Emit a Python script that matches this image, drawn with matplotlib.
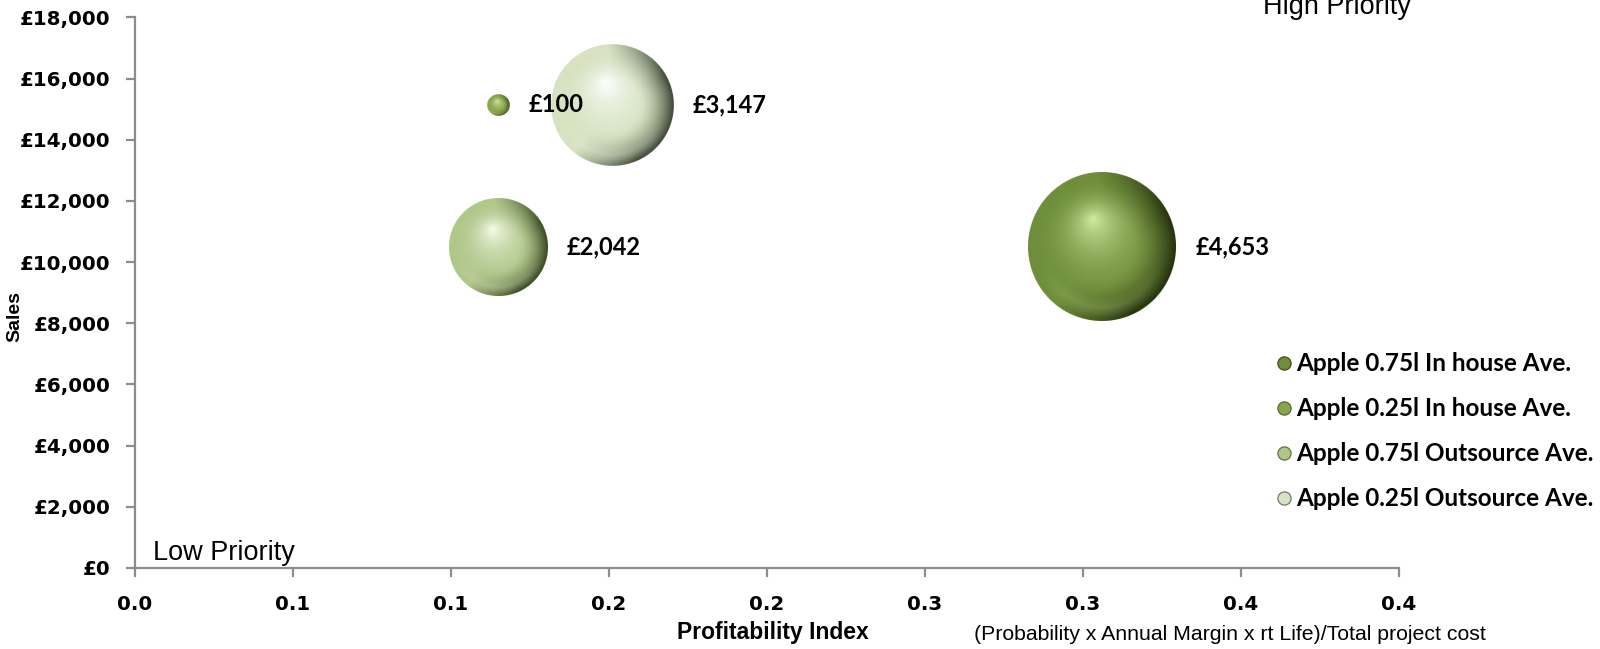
import numpy as np
import matplotlib
matplotlib.use("Agg")
import matplotlib.pyplot as plt
from matplotlib.colors import to_rgb
from matplotlib.lines import Line2D

# ---- data -------------------------------------------------------------
series = [
    "Apple 0.75l In house Ave.",
    "Apple 0.25l In house Ave.",
    "Apple 0.75l Outsource Ave.",
    "Apple 0.25l Outsource Ave.",
]
profit_index = [0.306, 0.115, 0.115, 0.151]
sales = [10500, 15150, 10500, 15150]
bubble_value = [4653, 100, 2042, 3147]

x_ticks = [0.0, 0.05, 0.10, 0.15, 0.20, 0.25, 0.30, 0.35, 0.40]
x_tick_labels = ["0.0", "0.1", "0.1", "0.2", "0.2", "0.3", "0.3", "0.4", "0.4"]
y_ticks = [0, 2000, 4000, 6000, 8000, 10000, 12000, 14000, 16000, 18000]
y_tick_labels = ["£{:,}".format(v) for v in y_ticks]

# ---- styling ----------------------------------------------------------
shades = [  # (shadow, body, highlight) per series
    ("#1c2708", "#6f8e3b", "#cfeca0"),
    ("#34441a", "#87a54b", "#d2eca4"),
    ("#2c3a18", "#b0c78a", "#f6fcec"),
    ("#2f3727", "#d6e2c1", "#ffffff"),
]
bubble_scale = 2.44          # points^2 per unit of bubble value
axis_grey = "#8c8c8c"
DPI = 100


def mix(c1, c2, f):
    a, b = np.asarray(c1, float), np.asarray(c2, float)
    f = np.asarray(f, float)[..., None] if np.ndim(f) else f
    return a + (b - a) * f


def sphere_rgba(radius_px, shadow, body, hilite, h=(-0.12, 0.38)):
    """RGBA raster of a glossy ball of the given pixel radius."""
    n = int(np.ceil(radius_px)) * 2 + 2
    c = (np.arange(n) - (n - 1) / 2.0) / radius_px
    u, v = np.meshgrid(c, -c)
    r = np.hypot(u, v)
    hx, hy = h
    # eccentric gradient parameter: 0 on the rim, 1 at the highlight
    a = hx * hx + hy * hy - 1.0
    b = 2.0 * (1.0 - (u * hx + v * hy))
    cc = np.minimum(r * r, 1.0) - 1.0
    disc = np.maximum(b * b - 4 * a * cc, 0)
    t = np.clip((-b + np.sqrt(disc)) / (2 * a), 0, 1)
    sh, bo, hi = (np.array(to_rgb(x)) for x in (shadow, body, hilite))
    col = mix(bo, hi, t ** 2.4)
    # darker crescent on the right-hand side
    rs = np.maximum(r, 1e-6)
    w = np.clip(0.35 + 0.95 * (u / rs * 0.95 - v / rs * 0.3), 0, 1)
    s = np.clip((r - 0.42) / 0.58, 0, 1) ** 1.7 * w
    col = mix(col, sh, 0.92 * s)
    # soft reflected light along the lower edge
    refl = np.clip((-v / rs - 0.3) / 0.7, 0, 1) * np.clip(1 - np.abs(r - 0.82) / 0.14, 0, 1)
    col = mix(col, hi, 0.18 * refl)
    alpha = np.clip((1.0 - r) * radius_px + 0.5, 0, 1)
    return np.dstack([np.clip(col, 0, 1), alpha])


fig = plt.figure(figsize=(16, 6.49), dpi=DPI)
ax = fig.add_axes([0.084375, 0.12481, 0.79, 0.8485])
ax.set_xlim(0, 0.4)
ax.set_ylim(0, 18000)

inv = ax.transData.inverted()
for i, (x, y, v) in enumerate(zip(profit_index, sales, bubble_value)):
    r_pt = np.sqrt(bubble_scale * v) / 2.0
    r_px = r_pt * DPI / 72.0
    img = sphere_rgba(r_px, *shades[i])
    half = img.shape[0] / 2.0
    cx, cy = ax.transData.transform((x, y))
    x0, y0 = inv.transform((cx - half, cy - half))
    x1, y1 = inv.transform((cx + half, cy + half))
    ax.imshow(img, extent=(x0, x1, y0, y1), origin="upper", aspect="auto",
              interpolation="bilinear", zorder=3 + i * 0.01)
    ax.annotate("£{:,}".format(v), (x, y), xytext=(r_pt + 14, 0),
                textcoords="offset points", ha="left", va="center",
                fontsize=17, fontweight="bold", family="Lato", zorder=10)
ax.set_xlim(0, 0.4)
ax.set_ylim(0, 18000)

# axes
for side in ("top", "right"):
    ax.spines[side].set_visible(False)
for side in ("left", "bottom"):
    ax.spines[side].set_color(axis_grey)
    ax.spines[side].set_linewidth(1.6)
ax.set_xticks(x_ticks)
ax.set_xticklabels(x_tick_labels)
ax.set_yticks(y_ticks)
ax.set_yticklabels(y_tick_labels)
ax.tick_params(axis="both", direction="out", length=6.5, width=1.6,
               color=axis_grey, labelsize=14.3)
ax.tick_params(axis="y", pad=11)
ax.tick_params(axis="x", pad=13)
for lab in ax.get_xticklabels() + ax.get_yticklabels():
    lab.set_fontweight("bold")
    lab.set_family("DejaVu Sans")

ax.text(0.0142, 0.0145, "Low Priority", transform=ax.transAxes,
        ha="left", va="baseline", fontsize=19.5, family="Liberation Sans")
ax.text(0.8924, 1.0060, "High Priority", transform=ax.transAxes,
        ha="left", va="baseline", fontsize=19.5, family="Liberation Sans",
        clip_on=False)

fig.text(0.4828, 0.0255, "Profitability Index", ha="center", va="center",
         fontsize=16.5, fontweight="bold", family="Liberation Sans")
fig.text(0.7684, 0.0225, "(Probability x Annual Margin x rt Life)/Total project cost",
         ha="center", va="center", fontsize=15.3, family="Liberation Sans")
fig.text(0.0094, 0.513, "Sales", rotation=90, ha="center", va="center",
         fontsize=14, fontweight="bold", family="Liberation Sans")

handles = [Line2D([], [], linestyle="none", marker="o", markersize=9.5,
                  markerfacecolor=shades[i][1],
                  markeredgecolor=mix(to_rgb(shades[i][0]), to_rgb(shades[i][1]), 0.4),
                  markeredgewidth=0.9)
           for i in range(len(series))]
fig.legend(handles, series, loc="upper left", bbox_to_anchor=(0.7972, 0.457),
           frameon=False, borderpad=0, borderaxespad=0, handlelength=0.7,
           handletextpad=0.15, labelspacing=0.9,
           prop={"family": "Lato", "weight": "bold", "size": 17.5})

fig.savefig("out.png", dpi=DPI)
